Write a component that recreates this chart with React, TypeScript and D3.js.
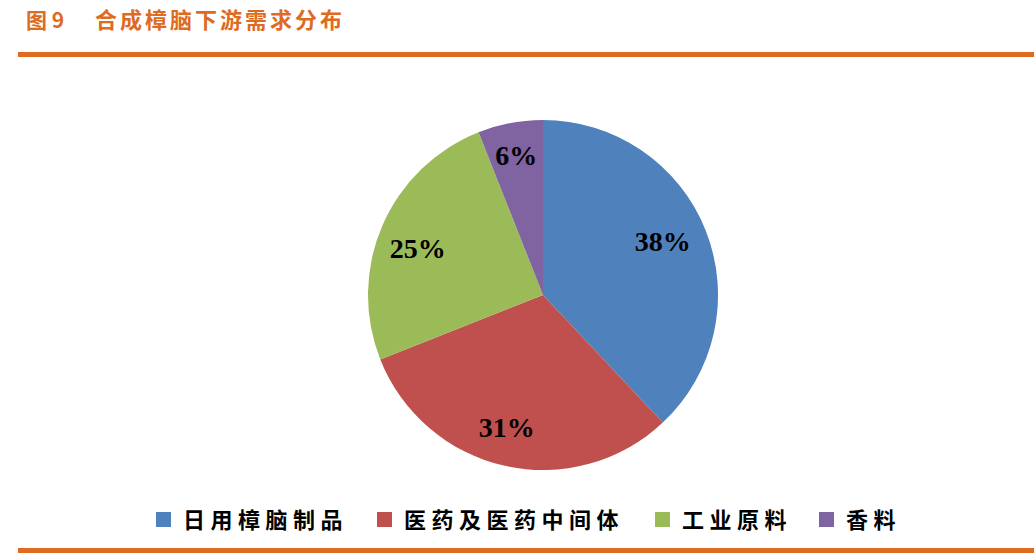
import { useEffect, useRef } from 'react'
import * as d3 from 'd3'

const categories = ['日用樟脑制品', '医药及医药中间体', '工业原料', '香料']
const values = [38, 31, 25, 6]
const colors = ['#4F81BD', '#C0504D', '#9BBB59', '#8064A2']
// where each percentage label sits: share of the radius, and a small turn off the slice middle (degrees)
const labelRadius = [0.75, 0.785, 0.765, 0.815]
const labelTurn = [-2.5, 2.7, -2.8, 0]
const title = '合成樟脑下游需求分布'
const figNo = '图 9'

export default function App() {
    const ref = useRef<SVGSVGElement>(null)

    useEffect(() => {
        const width = 1034
        const height = 558
        const cx = 543
        const cy = 295
        const radius = 175
        const orange = '#DE6B21'

        const svg = d3.select(ref.current)
        svg.selectAll('*').remove()

        svg.append('rect').attr('width', width).attr('height', height).attr('fill', '#fff')

        // title
        svg.append('text')
            .attr('x', 26)
            .attr('y', 28)
            .attr('fill', orange)
            .attr('font-family', '"Noto Sans CJK SC", sans-serif')
            .attr('font-weight', 700)
            .attr('font-size', 21)
            .text(figNo)
        svg.append('text')
            .attr('x', 95)
            .attr('y', 28)
            .attr('fill', orange)
            .attr('font-family', '"Noto Sans CJK SC", sans-serif')
            .attr('font-weight', 700)
            .attr('font-size', 22)
            .attr('letter-spacing', 3)
            .text(title)

        // rules
        svg.append('rect').attr('x', 18).attr('y', 52).attr('width', width - 18).attr('height', 5).attr('fill', orange)
        svg.append('rect').attr('x', 18).attr('y', 548).attr('width', width - 18).attr('height', 5).attr('fill', orange)

        const pie = d3.pie<number>().sort(null).value((d) => d)
        const arcs = pie(values)
        const arc = d3.arc<d3.PieArcDatum<number>>().innerRadius(0).outerRadius(radius)

        const g = svg.append('g').attr('transform', `translate(${cx},${cy})`)
        g.selectAll('path')
            .data(arcs)
            .join('path')
            .attr('d', arc)
            .attr('fill', (_, i) => colors[i])

        const total = d3.sum(values)
        g.selectAll('text')
            .data(arcs)
            .join('text')
            .attr('transform', (d, i) => {
                const r = radius * labelRadius[i]
                const turn = (labelTurn[i] * Math.PI) / 180
                const c = d3
                    .arc<d3.PieArcDatum<number>>()
                    .innerRadius(r)
                    .outerRadius(r)
                    .centroid({ ...d, startAngle: d.startAngle + turn, endAngle: d.endAngle + turn })
                return `translate(${c})`
            })
            .attr('text-anchor', 'middle')
            .attr('dy', '0.35em')
            .attr('font-family', '"Liberation Serif", "Times New Roman", serif')
            .attr('font-weight', 700)
            .attr('font-size', 28)
            .attr('fill', '#000')
            .text((d) => `${Math.round((d.value / total) * 100)}%`)

        // legend
        const legendX = [156, 377, 655, 819]
        const lg = svg.append('g')
        categories.forEach((c, i) => {
            lg.append('rect')
                .attr('x', legendX[i])
                .attr('y', 512)
                .attr('width', 15)
                .attr('height', 15)
                .attr('fill', colors[i])
            lg.append('text')
                .attr('x', legendX[i] + 27)
                .attr('y', 528)
                .attr('font-family', '"Noto Sans CJK SC", sans-serif')
                .attr('font-weight', 700)
                .attr('font-size', 22)
                .attr('letter-spacing', 5.5)
                .attr('fill', '#000')
                .text(c)
        })
    }, [])

    return (
        <svg
            ref={ref}
            width={1034}
            height={558}
            style={{ position: 'absolute', left: 0, top: 0, display: 'block' }}
        />
    )
}
